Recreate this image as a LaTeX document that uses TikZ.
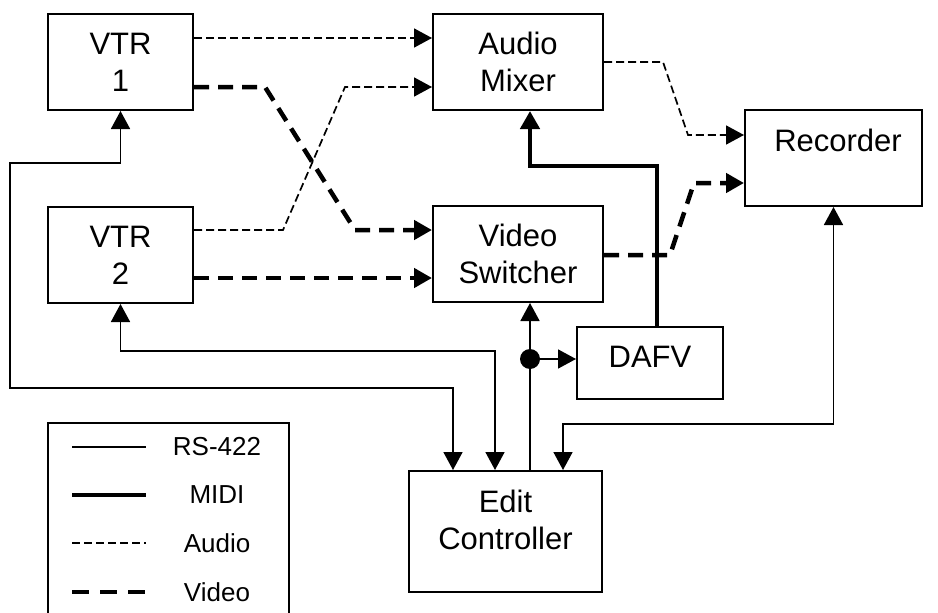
\documentclass[tikz,border=0pt]{standalone}
\usepackage{fontspec}
\setmainfont{Liberation Sans}
\usetikzlibrary{arrows.meta}
\begin{document}
\begin{tikzpicture}[x=1pt,y=-1pt,
  >={Triangle[length=18pt,width=19pt]},
  box/.style={draw, line width=2pt, inner sep=0pt},
  lbl/.style={align=center, font=\fontsize{31}{37}\selectfont, inner sep=0pt},
  leg/.style={font=\fontsize{26}{30}\selectfont, inner sep=0pt},
  rs/.style={line width=1.7pt},
  midi/.style={line width=4.5pt},
  audio/.style={line width=1.7pt, dash pattern=on 8pt off 4pt},
  video/.style={line width=4.5pt, dash pattern=on 15pt off 9pt},
]
\useasboundingbox (0,0) rectangle (938,613);
\fill[white] (0,0) rectangle (938,613);

% boxes
\node[box, minimum width=145pt, minimum height=96pt] (vtr1) at (120.5,62) {};
\node[box, minimum width=145pt, minimum height=96pt] (vtr2) at (120.5,255) {};
\node[box, minimum width=170pt, minimum height=96pt] (mixer) at (518,62) {};
\node[box, minimum width=170pt, minimum height=96pt] (switcher) at (518,254) {};
\node[box, minimum width=177pt, minimum height=96pt] (recorder) at (833.5,158) {};
\node[box, minimum width=146pt, minimum height=72pt] (dafv) at (650,363) {};
\node[box, minimum width=193pt, minimum height=121pt] (edit) at (505.5,531.5) {};

% labels
\node[lbl] (vtr1t) at (120.5,62) {VTR\\1};
\node[lbl] (vtr2t) at (120.5,255) {VTR\\2};
\node[lbl] (mixert) at (518,62) {Audio\\Mixer};
\node[lbl] (switchert) at (518,254) {Video\\Switcher};
\node[lbl] (recordert) at (838,140) {Recorder};
\node[lbl] (dafvt) at (650,357) {DAFV};
\node[lbl] (editt) at (505.5,520) {Edit\\Controller};

% audio
\draw[audio,->] (vtr1.east |- 0,38) -- (mixer.west |- 0,38);
\draw[audio,->] (vtr2.east |- 0,230) -- (283,230) -- (345,87) -- (mixer.west |- 0,87);
\draw[audio,->] (mixer.east |- 0,62) -- (663,62) -- (688,135) -- (recorder.west |- 0,135);

% video
\draw[video,->] (vtr1.east |- 0,87) -- (265,87) -- (355,230) -- (switcher.west |- 0,230);
\draw[video,->] (vtr2.east |- 0,278) -- (switcher.west |- 0,278);
\draw[video,->] (switcher.east |- 0,255) -- (670,255) -- (694,183) -- (recorder.west |- 0,183);

% midi
\draw[midi,->] (dafv.north -| 657,0) -- (657,166) -- (530,166) -- (mixer.south -| 530,0);

% rs-422
\draw[rs,<->] (vtr1.south) -- (120.5,163) -- (10,163) -- (10,388) -- (453,388) -- (edit.north -| 453,0);
\draw[rs,<->] (vtr2.south) -- (120.5,351) -- (495,351) -- (edit.north -| 495,0);
\coordinate (j) at (530,359);
\draw[rs,->] (edit.north -| 530,0) -- (switcher.south -| 530,0);
\fill (j) circle (10pt);
\draw[rs,->] (j) -- (dafv.west |- j);
\draw[rs,<->] (recorder.south) -- (833.5,424) -- (563,424) -- (edit.north -| 563,0);

% legend
\draw[line width=2pt] (48,630) -- (48,423) -- (289,423) -- (289,630);
\draw[rs] (72,447) -- (146,447);
\node[leg] (l1) at (217,447) {RS-422};
\draw[midi] (72,495) -- (146,495);
\node[leg] (l2) at (217,495) {MIDI};
\draw[audio] (72,543) -- (146,543);
\node[leg] (l3) at (217,543) {Audio};
\draw[line width=4.5pt, dash pattern=on 17pt off 11pt] (72,592) -- (146,592);
\node[leg] (l4) at (217,592) {Video};
\end{tikzpicture}
\end{document}
